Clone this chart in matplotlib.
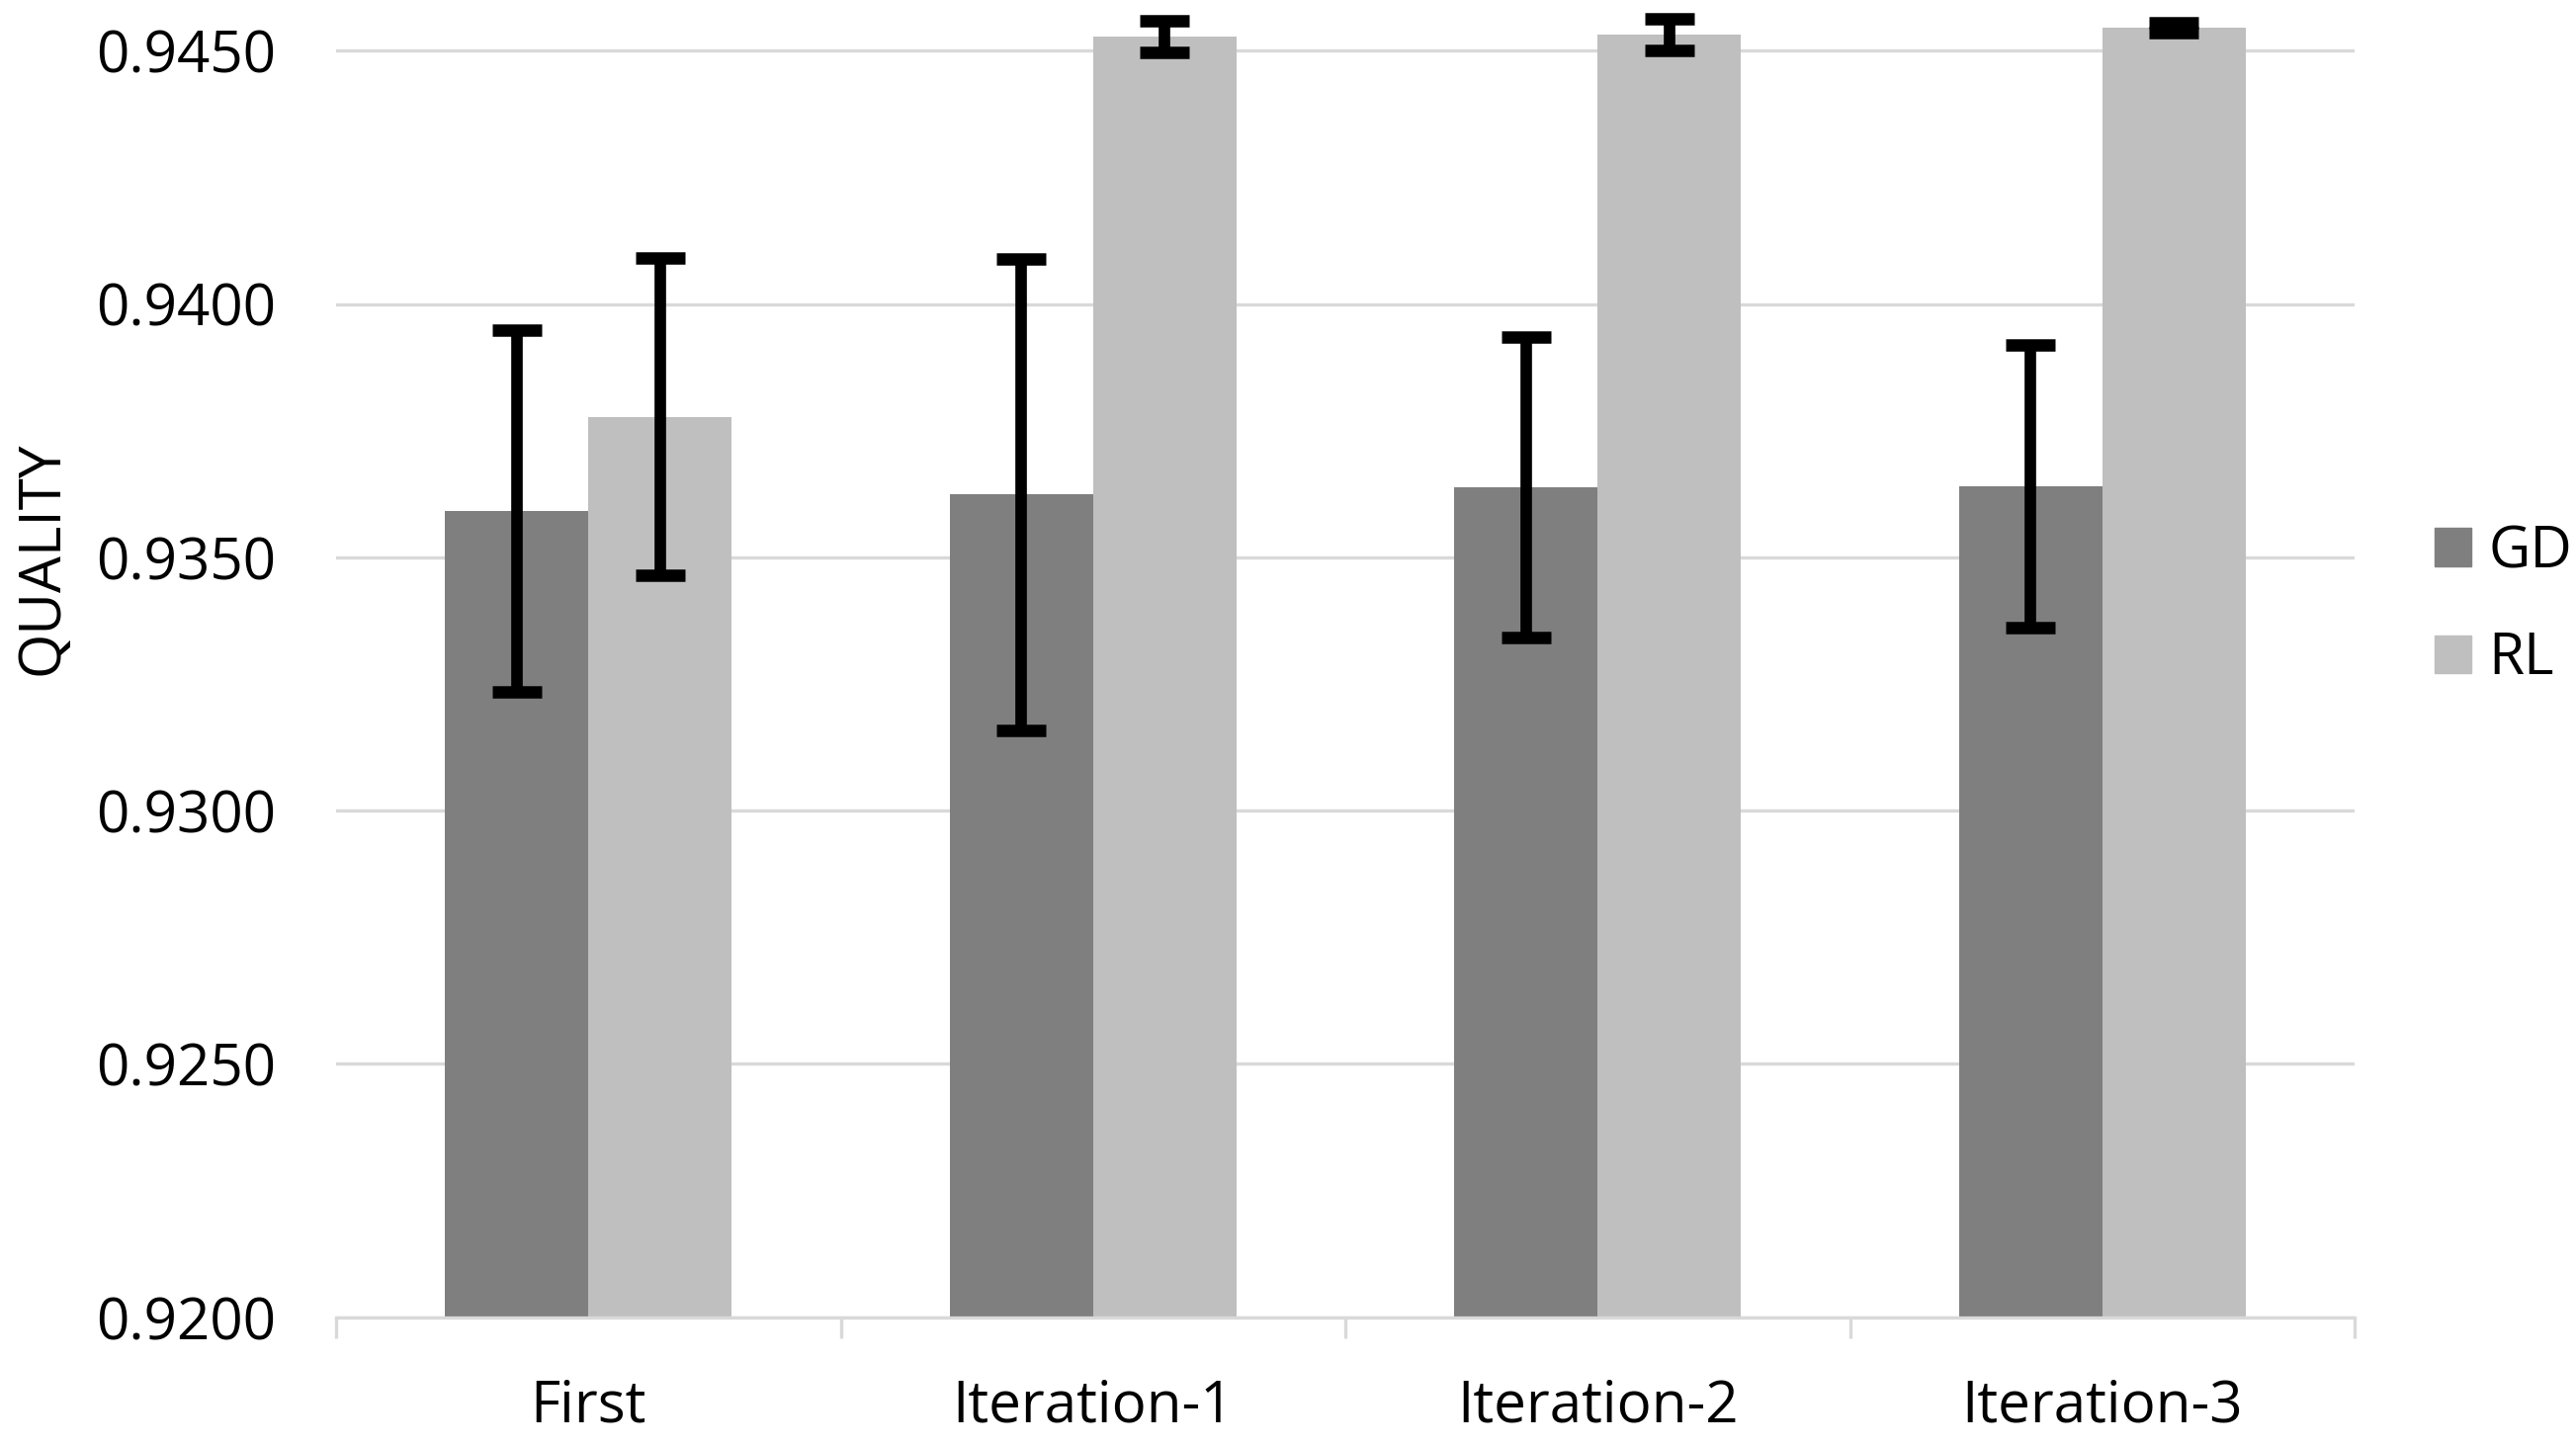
from matplotlib import pyplot as plt
from matplotlib.patches import Patch
import numpy as np

# values
categories = ["First", "Iteration-1", "Iteration-2", "Iteration-3"]
gd_mean = [0.93592, 0.93624, 0.93638, 0.93640]
gd_err = [0.00357, 0.00465, 0.00297, 0.00279]
rl_mean = [0.93777, 0.94528, 0.94531, 0.94545]
rl_err = [0.00313, 0.00032, 0.00031, 0.00010]
yticks = [0.9200, 0.9250, 0.9300, 0.9350, 0.9400, 0.9450]

plt.rcParams["font.family"] = ["Open Sans", "DejaVu Sans"]
fs = 42

fig = plt.figure(figsize=(26.06, 14.63), dpi=100)
ax = fig.add_axes([0.1305, 0.0890, 0.7836, 0.9110])

x = np.arange(len(categories))
w = 0.284
errkw = dict(ecolor="black", elinewidth=8.4, capsize=18, capthick=9)
ax.bar(x - w / 2, gd_mean, w, color="#7f7f7f", label="GD", zorder=2)
ax.bar(x + w / 2, rl_mean, w, color="#bfbfbf", label="RL", zorder=2)
ax.errorbar(x - w / 2, gd_mean, yerr=gd_err, fmt="none", zorder=3, **errkw)
ax.errorbar(x + w / 2, rl_mean, yerr=rl_err, fmt="none", zorder=3, **errkw)

ax.set_ylim(0.9200, 0.9460)
ax.set_xlim(-0.5, len(categories) - 0.5)
ax.set_yticks(yticks)
ax.set_yticklabels(["%.4f" % v for v in yticks], fontsize=fs)
ax.set_xticks(x)
ax.set_xticklabels(categories, fontsize=fs)
ax.set_xticks(np.arange(len(categories) + 1) - 0.5, minor=True)
ax.tick_params(axis="y", length=0, pad=44)
ax.tick_params(axis="x", which="major", length=0, pad=44)
ax.tick_params(axis="x", which="minor", length=15, width=2.4, color="#d9d9d9")
ax.grid(axis="y", color="#d9d9d9", linewidth=2.4, zorder=0)
ax.set_axisbelow(True)
for s in ["top", "right", "left"]:
    ax.spines[s].set_visible(False)
ax.spines["bottom"].set_color("#d9d9d9")
ax.spines["bottom"].set_linewidth(2.4)

fig.text(0.0165, 1 - 565 / 1463, "QUALITY", rotation=90, fontsize=fs,
         ha="center", va="center")

handles = [Patch(color="#7f7f7f", label="GD"), Patch(color="#bfbfbf", label="RL")]
fig.legend(handles=handles, loc="center left", bbox_to_anchor=(0.945, 1 - 613 / 1463),
           frameon=False, fontsize=fs, handlelength=0.64, handleheight=0.64,
           handletextpad=0.3, labelspacing=0.85, borderpad=0, borderaxespad=0)

plt.savefig("out.png", dpi=100)
